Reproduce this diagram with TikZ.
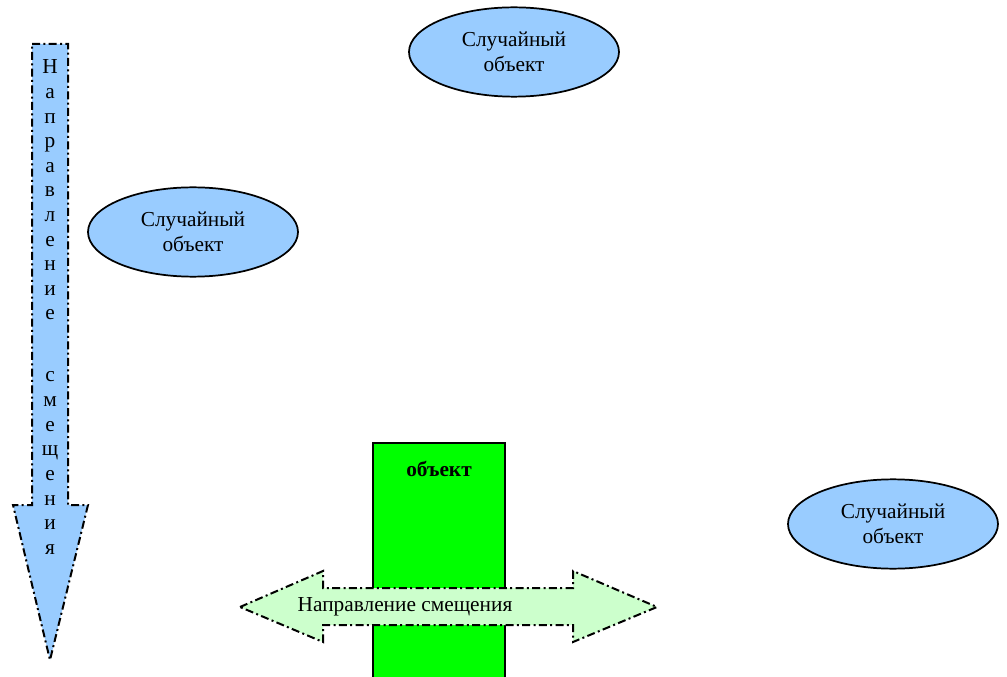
\documentclass[tikz,border=0pt]{standalone}
\usepackage{fontspec}
\setmainfont{Liberation Serif}
\usepackage{xcolor}
\definecolor{SkyBlue}{RGB}{153, 204, 255}
\definecolor{ObjGreen}{RGB}{0, 255, 0}
\definecolor{PaleGreen}{RGB}{204, 255, 204}
\usetikzlibrary{shapes.geometric}

\begin{document}
\begin{tikzpicture}[
    x=0.75pt, y=-0.75pt,
    randobj/.style={ellipse, draw=black, line width=1.3pt, fill=SkyBlue, minimum width=157.5pt, minimum height=67pt, inner sep=0pt, align=center, font=\fontsize{16}{18.4}\selectfont},
    dirarrow/.style={draw=black, line width=1.5pt, dash pattern=on 6pt off 2.5pt on 1.5pt off 2.5pt},
    vletter/.style={anchor=base, inner sep=0pt, font=\fontsize{16}{18.4}\selectfont}
]
\clip (0,0) rectangle (1007,677);

% Random objects
\node[randobj] (obj1) at (514, 52) {Случайный\\объект};
\node[randobj] (obj2) at (193, 232) {Случайный\\объект};
\node[randobj] (obj3) at (893, 524) {Случайный\\объект};

% Object
\fill[ObjGreen] (373, 443) rectangle (505, 690);
\draw[line width=0.9pt] (373, 690) -- (373, 443) -- (505, 443) -- (505, 690);
\node[font=\fontsize{16}{18.4}\selectfont\bfseries] (objlabel) at (439, 469) {объект};

% Vertical arrow
\draw[dirarrow, fill=SkyBlue] (32, 44) -- (68, 44) -- (68, 505) -- (88, 505)
    -- (50, 660) -- (13, 505) -- (32, 505) -- cycle;
\foreach \ch [count=\i from 0] in {Н,а,п,р,а,в,л,е,н,и,е}
    \node[vletter] (va\i) at (50, 74+\i*24.6) {\ch};
\foreach \ch [count=\i from 0] in {с,м,е,щ,е,н,и,я}
    \node[vletter] (vb\i) at (50, 382+\i*24.6) {\ch};

% Horizontal arrow
\draw[dirarrow, fill=PaleGreen] (240, 607) -- (323, 571) -- (323, 588) -- (573, 588)
    -- (573, 571) -- (657, 607) -- (573, 642) -- (573, 625) -- (323, 625)
    -- (323, 642) -- cycle;
\node[font=\fontsize{16}{18.4}\selectfont] (hlabel) at (405, 607) {Направление смещения};

\end{tikzpicture}
\end{document}
